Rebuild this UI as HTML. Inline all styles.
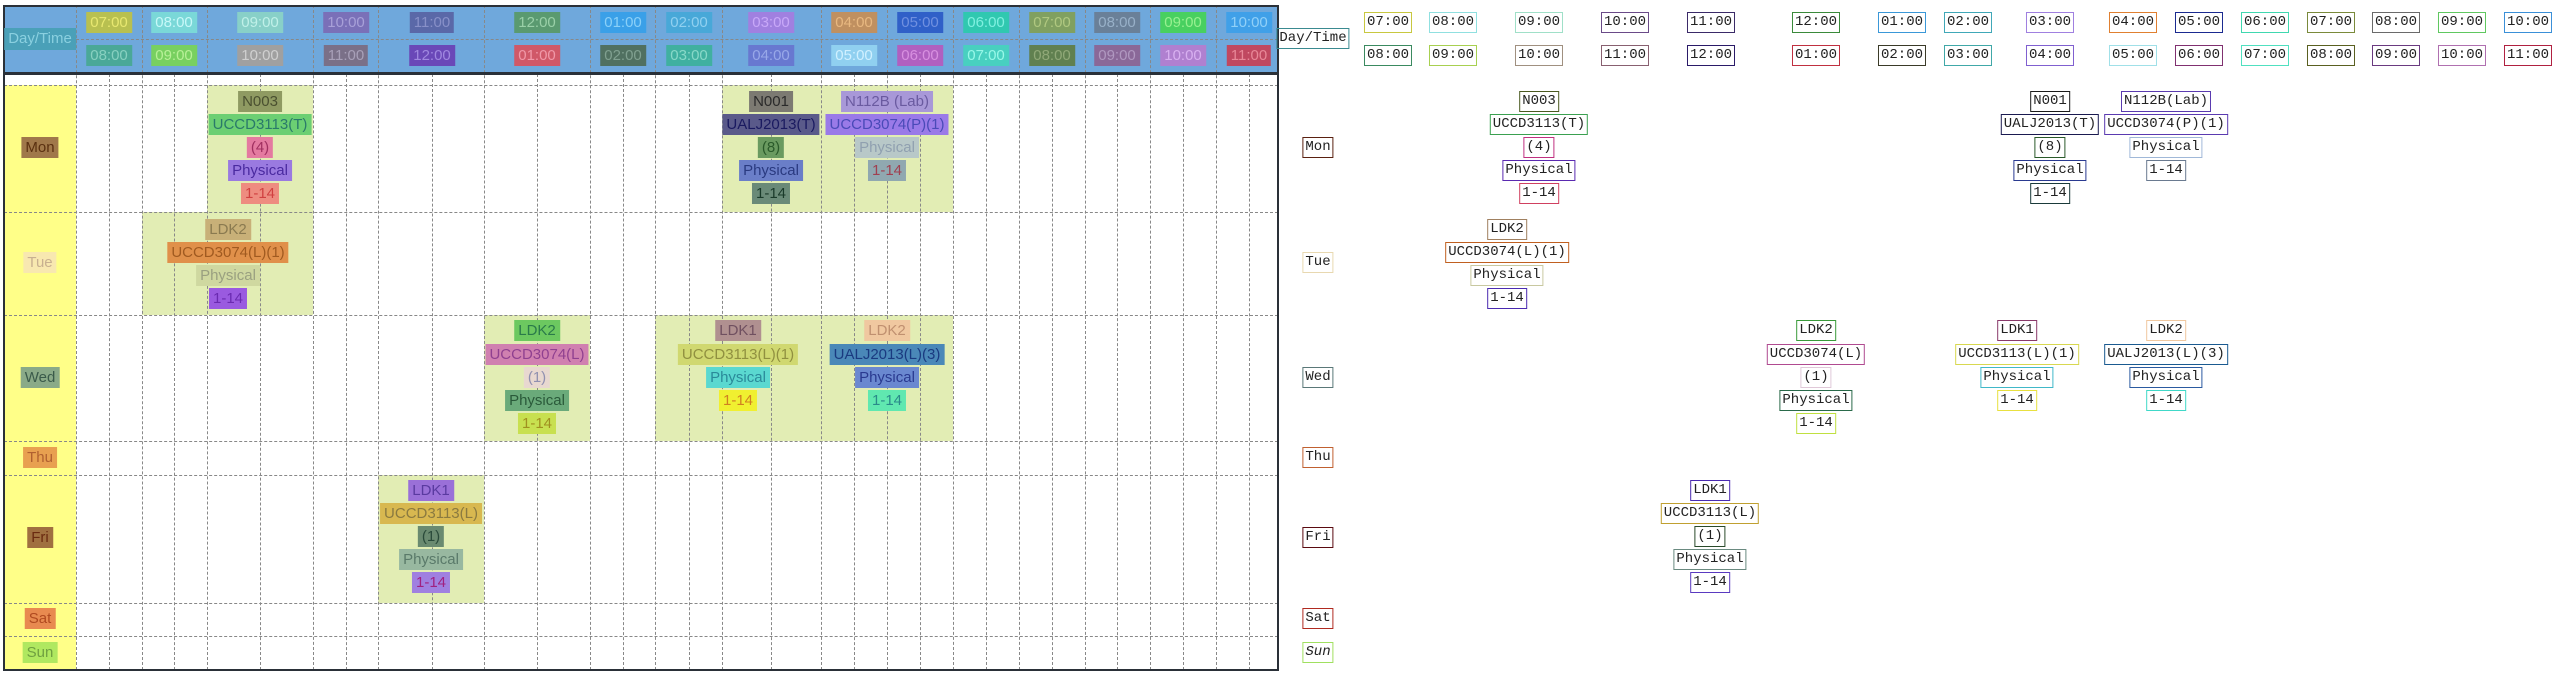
<!DOCTYPE html>
<html><head><meta charset="utf-8"><style>
*{margin:0;padding:0;box-sizing:border-box}
body{width:2558px;height:675px;position:relative;background:#fff;overflow:hidden;font-family:"Liberation Sans",sans-serif}
.a{position:absolute}
.c{position:absolute;transform:translateX(-50%);white-space:nowrap;font-size:15px;line-height:21px;height:21px;padding:0 4px}
.r .c{background:none!important;color:#222!important;border:1.5px solid;font-family:"Liberation Mono","Noto Serif CJK SC",monospace;font-size:14px;line-height:18px;height:21px;padding:0 2px}
.vl{position:absolute;width:0;border-left:1px dashed #888}
.hl{position:absolute;height:0;border-top:1px dashed #888}
.blk{position:absolute;background:#e2edb4}
</style></head><body>
<!-- LEFT TABLE -->
<div class="a" style="left:4px;top:5px;width:1274px;height:68px;background:#6fa8dc"></div>
<div class="a" style="left:4px;top:85px;width:72px;height:585px;background:#ffff88"></div>
<!-- blocks -->
<div class="blk" style="left:207px;top:85px;width:106px;height:127px"></div>
<div class="blk" style="left:722px;top:85px;width:231px;height:127px"></div>
<div class="blk" style="left:142px;top:212px;width:171px;height:103px"></div>
<div class="blk" style="left:484px;top:315px;width:106px;height:126px"></div>
<div class="blk" style="left:655px;top:315px;width:298px;height:126px"></div>
<div class="blk" style="left:378px;top:475px;width:106px;height:128px"></div>
<!-- header vlines -->
<div class="vl" style="left:76px;top:5px;height:665px"></div>
<div class="vl" style="left:142px;top:5px;height:665px"></div>
<div class="vl" style="left:207px;top:5px;height:665px"></div>
<div class="vl" style="left:313px;top:5px;height:665px"></div>
<div class="vl" style="left:378px;top:5px;height:665px"></div>
<div class="vl" style="left:484px;top:5px;height:665px"></div>
<div class="vl" style="left:590px;top:5px;height:665px"></div>
<div class="vl" style="left:655px;top:5px;height:665px"></div>
<div class="vl" style="left:722px;top:5px;height:665px"></div>
<div class="vl" style="left:821px;top:5px;height:665px"></div>
<div class="vl" style="left:887px;top:5px;height:665px"></div>
<div class="vl" style="left:953px;top:5px;height:665px"></div>
<div class="vl" style="left:1019px;top:5px;height:665px"></div>
<div class="vl" style="left:1085px;top:5px;height:665px"></div>
<div class="vl" style="left:1150px;top:5px;height:665px"></div>
<div class="vl" style="left:1216px;top:5px;height:665px"></div>
<!-- body mid vlines -->
<div class="vl" style="left:109px;top:74px;height:596px"></div>
<div class="vl" style="left:174px;top:74px;height:596px"></div>
<div class="vl" style="left:260px;top:74px;height:596px"></div>
<div class="vl" style="left:346px;top:74px;height:596px"></div>
<div class="vl" style="left:432px;top:74px;height:596px"></div>
<div class="vl" style="left:537px;top:74px;height:596px"></div>
<div class="vl" style="left:623px;top:74px;height:596px"></div>
<div class="vl" style="left:689px;top:74px;height:596px"></div>
<div class="vl" style="left:771px;top:74px;height:596px"></div>
<div class="vl" style="left:854px;top:74px;height:596px"></div>
<div class="vl" style="left:920px;top:74px;height:596px"></div>
<div class="vl" style="left:986px;top:74px;height:596px"></div>
<div class="vl" style="left:1052px;top:74px;height:596px"></div>
<div class="vl" style="left:1117px;top:74px;height:596px"></div>
<div class="vl" style="left:1183px;top:74px;height:596px"></div>
<div class="vl" style="left:1249px;top:74px;height:596px"></div>
<!-- hlines -->
<div class="hl" style="left:76px;top:39px;width:1202px"></div>
<div class="hl" style="left:4px;top:85px;width:1274px"></div>
<div class="hl" style="left:4px;top:212px;width:1274px"></div>
<div class="hl" style="left:4px;top:315px;width:1274px"></div>
<div class="hl" style="left:4px;top:441px;width:1274px"></div>
<div class="hl" style="left:4px;top:475px;width:1274px"></div>
<div class="hl" style="left:4px;top:603px;width:1274px"></div>
<div class="hl" style="left:4px;top:636px;width:1274px"></div>
<div class="a" style="left:4px;top:72px;width:1274px;height:3px;background:#2a3038"></div>
<div class="a" style="left:3px;top:5px;width:1276px;height:666px;border:2px solid #2a3038"></div>

<div id="L">
<div class="c" style="left:40px;top:28px;background:#4aa0b8;color:#8ad0e0;height:22px;line-height:22px">Day/Time</div>
<!-- header top -->
<div class="c" style="left:109px;top:12px;background:#b8c050;color:#e8e870">07:00</div>
<div class="c" style="left:174px;top:12px;background:#7ad8d8;color:#c8f8f8">08:00</div>
<div class="c" style="left:260px;top:12px;background:#88d0c8;color:#c0f0e8">09:00</div>
<div class="c" style="left:346px;top:12px;background:#7a70b8;color:#a8a0d8">10:00</div>
<div class="c" style="left:432px;top:12px;background:#5a68a8;color:#8890c8">11:00</div>
<div class="c" style="left:537px;top:12px;background:#5a9a70;color:#9ad0a8">12:00</div>
<div class="c" style="left:623px;top:12px;background:#3aa0e8;color:#8ad0f8">01:00</div>
<div class="c" style="left:689px;top:12px;background:#48a8d8;color:#90d0f0">02:00</div>
<div class="c" style="left:771px;top:12px;background:#a080e0;color:#c8a8f8">03:00</div>
<div class="c" style="left:854px;top:12px;background:#c09060;color:#e8b880">04:00</div>
<div class="c" style="left:920px;top:12px;background:#3060c8;color:#7090e0">05:00</div>
<div class="c" style="left:986px;top:12px;background:#30c8b0;color:#80f0e0">06:00</div>
<div class="c" style="left:1052px;top:12px;background:#80a060;color:#b0c880">07:00</div>
<div class="c" style="left:1117px;top:12px;background:#6a8098;color:#98b0c8">08:00</div>
<div class="c" style="left:1183px;top:12px;background:#48d060;color:#98f090">09:00</div>
<div class="c" style="left:1249px;top:12px;background:#40a0e8;color:#90d0f8">10:00</div>
<!-- header bottom -->
<div class="c" style="left:109px;top:45px;background:#4aa898;color:#88d0c0">08:00</div>
<div class="c" style="left:174px;top:45px;background:#78d060;color:#b8f098">09:00</div>
<div class="c" style="left:260px;top:45px;background:#a0a0a0;color:#d0d0d0">10:00</div>
<div class="c" style="left:346px;top:45px;background:#7a7088;color:#a8a0b8">11:00</div>
<div class="c" style="left:432px;top:45px;background:#6a48b8;color:#a088e0">12:00</div>
<div class="c" style="left:537px;top:45px;background:#d05868;color:#f098a8">01:00</div>
<div class="c" style="left:623px;top:45px;background:#507060;color:#80a090">02:00</div>
<div class="c" style="left:689px;top:45px;background:#40b0a0;color:#88d8c8">03:00</div>
<div class="c" style="left:771px;top:45px;background:#6878d0;color:#98a8e8">04:00</div>
<div class="c" style="left:854px;top:45px;background:#90d0f0;color:#d0f0ff">05:00</div>
<div class="c" style="left:920px;top:45px;background:#b060c0;color:#d890e0">06:00</div>
<div class="c" style="left:986px;top:45px;background:#48d0c0;color:#98f8e8">07:00</div>
<div class="c" style="left:1052px;top:45px;background:#608050;color:#90a878">08:00</div>
<div class="c" style="left:1117px;top:45px;background:#8a6898;color:#b098c0">09:00</div>
<div class="c" style="left:1183px;top:45px;background:#b080d0;color:#d8b0f0">10:00</div>
<div class="c" style="left:1249px;top:45px;background:#c04860;color:#e88898">11:00</div>
<!-- days -->
<div class="c" style="left:40px;top:137px;background:#a0784a;color:#5a3010">Mon</div>
<div class="c" style="left:40px;top:252px;background:#f8e8b0;color:#c8b090">Tue</div>
<div class="c" style="left:40px;top:367px;background:#8aaa88;color:#3a5a4a">Wed</div>
<div class="c" style="left:40px;top:447px;background:#e8a050;color:#b06030">Thu</div>
<div class="c" style="left:40px;top:527px;background:#a07040;color:#6a2a10">Fri</div>
<div class="c" style="left:40px;top:608px;background:#e88a50;color:#b04a20">Sat</div>
<div class="c" style="left:40px;top:642px;background:#b0e860;color:#70a040">Sun</div>
<!-- Mon N003 -->
<div class="c" style="left:260px;top:91px;background:#8f9a62;color:#4a5030">N003</div>
<div class="c" style="left:260px;top:114px;background:#6ccf73;color:#2a7a6a">UCCD3113(T)</div>
<div class="c" style="left:260px;top:137px;background:#e47aa0;color:#a03060">(4)</div>
<div class="c" style="left:260px;top:160px;background:#9a7ae0;color:#4a2aa0">Physical</div>
<div class="c" style="left:260px;top:183px;background:#ee8c80;color:#d04040">1-14</div>
<!-- Mon N001 -->
<div class="c" style="left:771px;top:91px;background:#7c7a72;color:#2a2a2a">N001</div>
<div class="c" style="left:771px;top:114px;background:#5a5a8a;color:#1a1a60">UALJ2013(T)</div>
<div class="c" style="left:771px;top:137px;background:#6a9a60;color:#2a5a2a">(8)</div>
<div class="c" style="left:771px;top:160px;background:#6a7ec8;color:#2a3a80">Physical</div>
<div class="c" style="left:771px;top:183px;background:#6a8a78;color:#1a3a2a">1-14</div>
<!-- Mon N112B -->
<div class="c" style="left:887px;top:91px;background:#a898d8;color:#6a5aa0">N112B (Lab)</div>
<div class="c" style="left:887px;top:114px;background:#9a7ae8;color:#4a4ab8">UCCD3074(P)(1)</div>
<div class="c" style="left:887px;top:137px;background:#b8c8c8;color:#90a0b0">Physical</div>
<div class="c" style="left:887px;top:160px;background:#90a8b0;color:#a04050">1-14</div>
<!-- Tue -->
<div class="c" style="left:228px;top:219px;background:#c8b078;color:#8a7a50">LDK2</div>
<div class="c" style="left:228px;top:242px;background:#e0904a;color:#a05a20">UCCD3074(L)(1)</div>
<div class="c" style="left:228px;top:265px;background:#cfd8a0;color:#9aa080">Physical</div>
<div class="c" style="left:228px;top:288px;background:#9a5ae0;color:#6a2ab0">1-14</div>
<!-- Wed LDK2 -->
<div class="c" style="left:537px;top:320px;background:#6cc860;color:#2a7a4a">LDK2</div>
<div class="c" style="left:537px;top:344px;background:#d080b0;color:#904090">UCCD3074(L)</div>
<div class="c" style="left:537px;top:367px;background:#e8d8d0;color:#9090b0">(1)</div>
<div class="c" style="left:537px;top:390px;background:#6aaa7a;color:#2a5a3a">Physical</div>
<div class="c" style="left:537px;top:413px;background:#c8e050;color:#a09020">1-14</div>
<!-- Wed LDK1 -->
<div class="c" style="left:738px;top:320px;background:#b09090;color:#705060">LDK1</div>
<div class="c" style="left:738px;top:344px;background:#d0d870;color:#909040">UCCD3113(L)(1)</div>
<div class="c" style="left:738px;top:367px;background:#5ad8d0;color:#2a8a9a">Physical</div>
<div class="c" style="left:738px;top:390px;background:#f0f030;color:#d08020">1-14</div>
<!-- Wed LDK2 b -->
<div class="c" style="left:887px;top:320px;background:#f0c8a0;color:#c09070">LDK2</div>
<div class="c" style="left:887px;top:344px;background:#4a88b8;color:#1a3a80">UALJ2013(L)(3)</div>
<div class="c" style="left:887px;top:367px;background:#6a88d0;color:#2a3a90">Physical</div>
<div class="c" style="left:887px;top:390px;background:#60e8b0;color:#2a8a8a">1-14</div>
<!-- Fri -->
<div class="c" style="left:431px;top:480px;background:#9a70d8;color:#5a3aa0">LDK1</div>
<div class="c" style="left:431px;top:503px;background:#d8b850;color:#8a7a40">UCCD3113(L)</div>
<div class="c" style="left:431px;top:526px;background:#6a8a70;color:#2a4a3a">(1)</div>
<div class="c" style="left:431px;top:549px;background:#98b8a0;color:#5a7a6a">Physical</div>
<div class="c" style="left:431px;top:572px;background:#a080e0;color:#a02080">1-14</div>
</div>

<!-- RIGHT OUTLINE VERSION -->
<div class="a r" style="left:1279px;top:0;width:1279px;height:675px">
<div class="c" style="left:34px;top:28px;border-color:#3a8a90">Day/Time</div>
<div class="c" style="left:109px;top:12px;border-color:#c8c840">07:00</div>
<div class="c" style="left:174px;top:12px;border-color:#90e0e0">08:00</div>
<div class="c" style="left:260px;top:12px;border-color:#a0e0c8">09:00</div>
<div class="c" style="left:346px;top:12px;border-color:#6a4a88">10:00</div>
<div class="c" style="left:432px;top:12px;border-color:#3a2a68">11:00</div>
<div class="c" style="left:537px;top:12px;border-color:#3a8a3a">12:00</div>
<div class="c" style="left:623px;top:12px;border-color:#3a98d8">01:00</div>
<div class="c" style="left:689px;top:12px;border-color:#40a8b8">02:00</div>
<div class="c" style="left:771px;top:12px;border-color:#a080e0">03:00</div>
<div class="c" style="left:854px;top:12px;border-color:#e08030">04:00</div>
<div class="c" style="left:920px;top:12px;border-color:#1a2a90">05:00</div>
<div class="c" style="left:986px;top:12px;border-color:#40d8b0">06:00</div>
<div class="c" style="left:1052px;top:12px;border-color:#7a8a3a">07:00</div>
<div class="c" style="left:1117px;top:12px;border-color:#6a6a6a">08:00</div>
<div class="c" style="left:1183px;top:12px;border-color:#60c860">09:00</div>
<div class="c" style="left:1249px;top:12px;border-color:#3a90d8">10:00</div>
<div class="c" style="left:109px;top:45px;border-color:#3a8a60">08:00</div>
<div class="c" style="left:174px;top:45px;border-color:#a8d050">09:00</div>
<div class="c" style="left:260px;top:45px;border-color:#a09080">10:00</div>
<div class="c" style="left:346px;top:45px;border-color:#886070">11:00</div>
<div class="c" style="left:432px;top:45px;border-color:#2a1a68">12:00</div>
<div class="c" style="left:537px;top:45px;border-color:#c03040">01:00</div>
<div class="c" style="left:623px;top:45px;border-color:#3a3a28">02:00</div>
<div class="c" style="left:689px;top:45px;border-color:#40a8a8">03:00</div>
<div class="c" style="left:771px;top:45px;border-color:#8060d0">04:00</div>
<div class="c" style="left:854px;top:45px;border-color:#a0e0e8">05:00</div>
<div class="c" style="left:920px;top:45px;border-color:#803070">06:00</div>
<div class="c" style="left:986px;top:45px;border-color:#50e0c0">07:00</div>
<div class="c" style="left:1052px;top:45px;border-color:#5a6020">08:00</div>
<div class="c" style="left:1117px;top:45px;border-color:#6a3a80">09:00</div>
<div class="c" style="left:1183px;top:45px;border-color:#b070b0">10:00</div>
<div class="c" style="left:1249px;top:45px;border-color:#b02040">11:00</div>
<div class="c" style="left:39px;top:137px;border-color:#5a2010">Mon</div>
<div class="c" style="left:39px;top:252px;border-color:#e8d8b0">Tue</div>
<div class="c" style="left:39px;top:367px;border-color:#5a7878">Wed</div>
<div class="c" style="left:39px;top:447px;border-color:#c06030">Thu</div>
<div class="c" style="left:39px;top:527px;border-color:#5a0a10">Fri</div>
<div class="c" style="left:39px;top:608px;border-color:#b02a20">Sat</div>
<div class="c" style="left:39px;top:642px;border-color:#a0e060;font-style:italic">Sun</div>
<div class="c" style="left:260px;top:91px;border-color:#4a5a20">N003</div>
<div class="c" style="left:260px;top:114px;border-color:#3aa050">UCCD3113(T)</div>
<div class="c" style="left:260px;top:137px;border-color:#c03080">(4)</div>
<div class="c" style="left:260px;top:160px;border-color:#5a2ab0">Physical</div>
<div class="c" style="left:260px;top:183px;border-color:#d04060">1-14</div>
<div class="c" style="left:771px;top:91px;border-color:#1a1a1a">N001</div>
<div class="c" style="left:771px;top:114px;border-color:#1a1a50">UALJ2013(T)</div>
<div class="c" style="left:771px;top:137px;border-color:#2a5a2a">(8)</div>
<div class="c" style="left:771px;top:160px;border-color:#2a3a90">Physical</div>
<div class="c" style="left:771px;top:183px;border-color:#1a3a3a">1-14</div>
<div class="c" style="left:887px;top:91px;border-color:#5a3ab0">N112B(Lab)</div>
<div class="c" style="left:887px;top:114px;border-color:#5a3ab0">UCCD3074(P)(1)</div>
<div class="c" style="left:887px;top:137px;border-color:#a0b8d8">Physical</div>
<div class="c" style="left:887px;top:160px;border-color:#6a7a90">1-14</div>
<div class="c" style="left:228px;top:219px;border-color:#a08060">LDK2</div>
<div class="c" style="left:228px;top:242px;border-color:#c06020">UCCD3074(L)(1)</div>
<div class="c" style="left:228px;top:265px;border-color:#c8c8a0">Physical</div>
<div class="c" style="left:228px;top:288px;border-color:#4a2ab0">1-14</div>
<div class="c" style="left:537px;top:320px;border-color:#3a9a3a">LDK2</div>
<div class="c" style="left:537px;top:344px;border-color:#b04a90">UCCD3074(L)</div>
<div class="c" style="left:537px;top:367px;border-color:#e0c8d8">(1)</div>
<div class="c" style="left:537px;top:390px;border-color:#2a6a4a">Physical</div>
<div class="c" style="left:537px;top:413px;border-color:#c0e040">1-14</div>
<div class="c" style="left:738px;top:320px;border-color:#8a3a6a">LDK1</div>
<div class="c" style="left:738px;top:344px;border-color:#d8d850">UCCD3113(L)(1)</div>
<div class="c" style="left:738px;top:367px;border-color:#40b8c8">Physical</div>
<div class="c" style="left:738px;top:390px;border-color:#e8e040">1-14</div>
<div class="c" style="left:887px;top:320px;border-color:#f0c8a0">LDK2</div>
<div class="c" style="left:887px;top:344px;border-color:#1a5a90">UALJ2013(L)(3)</div>
<div class="c" style="left:887px;top:367px;border-color:#2a5aa0">Physical</div>
<div class="c" style="left:887px;top:390px;border-color:#40d8c8">1-14</div>
<div class="c" style="left:431px;top:480px;border-color:#4a2ab0">LDK1</div>
<div class="c" style="left:431px;top:503px;border-color:#c0a030">UCCD3113(L)</div>
<div class="c" style="left:431px;top:526px;border-color:#2a4a2a">(1)</div>
<div class="c" style="left:431px;top:549px;border-color:#6a8a80">Physical</div>
<div class="c" style="left:431px;top:572px;border-color:#5a3ac0">1-14</div>
</div>
</body></html>
